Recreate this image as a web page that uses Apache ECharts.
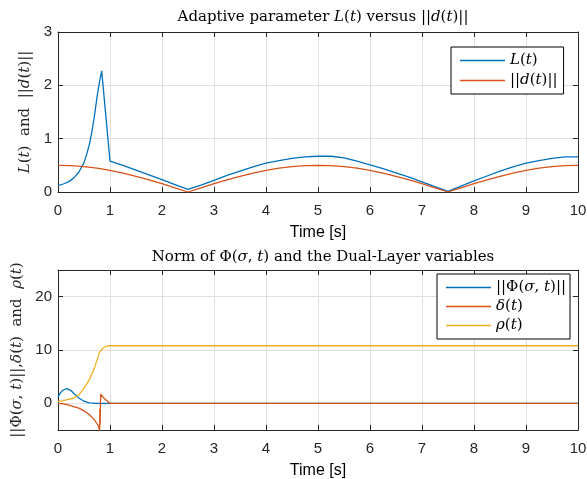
<!DOCTYPE html>
<html><head><meta charset="utf-8">
<script src="https://cdn.jsdelivr.net/npm/echarts@6/dist/echarts.min.js"></script>
<style>html,body{margin:0;padding:0;background:#fff}#c{width:587px;height:479px}</style>
</head><body><div id="c"></div>
<script>
// ---- Data ----
var tL = [0,0.1,0.2,0.3,0.4,0.5,0.55,0.6,0.65,0.7,0.75,0.8,0.84,1.0,1.25,1.5,1.75,2.0,2.25,2.5,2.75,3.0,3.25,3.5,3.75,4.0,4.25,4.5,4.75,5.0,5.25,5.5,5.75,6.0,6.25,6.5,6.75,7.0,7.25,7.5,7.75,8.0,8.25,8.5,8.75,9.0,9.25,9.5,9.75,10.0];
var L  = [0.12,0.15,0.19,0.26,0.37,0.55,0.70,0.88,1.12,1.42,1.78,2.08,2.27,0.58,0.50,0.41,0.32,0.23,0.14,0.05,0.13,0.22,0.31,0.39,0.47,0.54,0.59,0.63,0.66,0.67,0.67,0.64,0.58,0.51,0.44,0.36,0.28,0.19,0.10,0.01,0.11,0.21,0.30,0.39,0.47,0.54,0.59,0.63,0.66,0.66];
var tD = [0,0.25,0.5,0.75,1.0,1.25,1.5,1.75,2.0,2.25,2.5,2.75,3.0,3.25,3.5,3.75,4.0,4.25,4.5,4.75,5.0,5.25,5.5,5.75,6.0,6.25,6.5,6.75,7.0,7.25,7.5,7.75,8.0,8.25,8.5,8.75,9.0,9.25,9.5,9.75,10.0];
var D  = [0.5,0.494,0.476,0.446,0.405,0.354,0.294,0.227,0.155,0.078,0,0.078,0.155,0.227,0.294,0.354,0.405,0.446,0.476,0.494,0.5,0.494,0.476,0.446,0.405,0.354,0.294,0.227,0.155,0.078,0,0.078,0.155,0.227,0.294,0.354,0.405,0.446,0.476,0.494,0.5];

var tPhi = [0,0.05,0.1,0.17,0.25,0.3,0.4,0.5,0.6,0.7,0.8,10];
var Phi  = [1.2,2.0,2.5,2.75,2.4,1.9,1.0,0.4,0.1,0.02,0,0];
var tDel = [0,0.1,0.2,0.3,0.4,0.5,0.6,0.7,0.78,0.8,0.805,0.81,0.815,0.82,0.9,1.0,10];
var Del  = [0,-0.1,-0.3,-0.6,-0.9,-1.4,-2.1,-3.1,-4.3,-5.2,-1.0,-4.0,-0.8,1.7,0.8,0,0];
var tRho = [0,0.1,0.2,0.3,0.4,0.5,0.6,0.7,0.8,0.85,0.9,0.95,1.0,10];
var Rho  = [0.3,0.5,0.75,1.0,1.6,2.8,4.4,6.6,9.6,10.2,10.6,10.75,10.8,10.8];

var xTicks = [0,1,2,3,4,5,6,7,8,9,10];
var yTicksTop = [0,1,2,3];
var yTicksBot = [0,10,20];

function pairs(t, v){ return t.map(function(x,i){ return [x, v[i]]; }); }

var SERIF = 'DejaVu Serif';
var SANS = 'Liberation Sans';
var AX = '#262626';
var FS = 15;
var rich = {
  i: {fontFamily: SERIF, fontStyle: 'italic', fontSize: FS, color: '#000'},
  n: {fontFamily: SERIF, fontSize: FS, color: '#000'}
};
var richY = {
  i: {fontFamily: SERIF, fontStyle: 'italic', fontSize: FS, color: '#262626'},
  n: {fontFamily: SERIF, fontSize: FS, color: '#262626'}
};

var chart = echarts.init(document.getElementById('c'), null, {renderer: 'canvas'});

function xAxisMain(gi){
  return {type:'value', gridIndex: gi, min:0, max:10, interval:1, position:'bottom',
    name:'Time [s]', nameLocation:'middle', nameGap: 33,
    nameTextStyle:{fontFamily: SANS, fontSize:16, color:'#000'},
    axisLine:{show:true, onZero:false, lineStyle:{color:AX, width:1}},
    axisTick:{show:true, inside:true, length:5, lineStyle:{color:AX}, customValues:xTicks},
    axisLabel:{fontFamily:SANS, fontSize:15, color:'#262626', margin:11, customValues:xTicks},
    splitLine:{show:true, lineStyle:{color:'#dfdfdf', width:1}}};
}
function xAxisTop(gi){
  return {type:'value', gridIndex: gi, min:0, max:10, interval:1, position:'top',
    axisLine:{show:true, onZero:false, lineStyle:{color:AX, width:1}},
    axisTick:{show:true, inside:true, length:5, lineStyle:{color:AX}},
    axisLabel:{show:false}, splitLine:{show:false}};
}

var option = {
  backgroundColor:'#fff',
  animation:false,
  title:[
    {text:'Adaptive parameter {i|L}{n|(}{i|t}{n|)} versus {n|||}{i|d}{n|(}{i|t}{n|)||}', left:318, textAlign:'center', top:5,
     textStyle:{fontFamily:SERIF, fontSize:FS, fontWeight:'normal', color:'#000', rich:rich}},
    {text:'Norm of {n|Φ(}{i|σ}{n|, }{i|t}{n|)} and the Dual-Layer variables', left:318, textAlign:'center', top:245,
     textStyle:{fontFamily:SERIF, fontSize:FS, fontWeight:'normal', color:'#000', rich:rich}}
  ],
  grid:[
    {left:58, right:9, top:32, height:160, outerBoundsMode:'none', containLabel:false},
    {left:58, right:9, top:270, height:160, outerBoundsMode:'none', containLabel:false}
  ],
  xAxis:[ xAxisMain(0), xAxisTop(0), xAxisMain(1), xAxisTop(1) ],
  yAxis:[
    {type:'value', gridIndex:0, min:0, max:3, interval:1, position:'left',
     name:'{i|L}{n|(}{i|t}{n|)  and  ||}{i|d}{n|(}{i|t}{n|)||}', nameLocation:'middle', nameGap:22, nameRotate:90,
     nameTextStyle:{fontFamily:SERIF, fontSize:FS, color:'#262626', rich:richY},
     axisLine:{show:true, onZero:false, lineStyle:{color:AX}},
     axisTick:{show:true, inside:true, length:5, lineStyle:{color:AX}},
     axisLabel:{fontFamily:SANS, fontSize:15, color:'#262626', margin:6},
     splitLine:{show:true, lineStyle:{color:'#dfdfdf'}}},
    {type:'value', gridIndex:0, min:0, max:3, interval:1, position:'right',
     axisLine:{show:true, onZero:false, lineStyle:{color:AX}},
     axisTick:{show:true, inside:true, length:5, lineStyle:{color:AX}},
     axisLabel:{show:false}, splitLine:{show:false}},
    {type:'value', gridIndex:1, min:-5, max:25, position:'left',
     name:'{n|||Φ(}{i|σ}{n|, }{i|t}{n|)||,}{i|δ}{n|(}{i|t}{n|)  and  }{i|ρ}{n|(}{i|t}{n|)}', nameLocation:'middle', nameGap:30, nameRotate:90,
     nameTextStyle:{fontFamily:SERIF, fontSize:FS, color:'#262626', rich:richY},
     axisLine:{show:true, onZero:false, lineStyle:{color:AX}},
     axisTick:{show:true, inside:true, length:5, lineStyle:{color:AX}, customValues:yTicksBot},
     axisLabel:{fontFamily:SANS, fontSize:15, color:'#262626', margin:6, customValues:yTicksBot},
     splitLine:{show:true, lineStyle:{color:'#dfdfdf'}}},
    {type:'value', gridIndex:1, min:-5, max:25, position:'right',
     axisLine:{show:true, onZero:false, lineStyle:{color:AX}},
     axisTick:{show:true, inside:true, length:5, lineStyle:{color:AX}, customValues:yTicksBot},
     axisLabel:{show:false, customValues:yTicksBot}, splitLine:{show:false}}
  ],
  legend:[
    {data:['L','d'], left:451, top:47, orient:'vertical', icon:'rect', itemWidth:45, itemHeight:1.5, itemGap:5,
     backgroundColor:'#fff', borderColor:'#000', borderWidth:1, borderRadius:0, padding:[6,6,6,9],
     formatter:function(n){ return n==='L' ? '{i|L}{n|(}{i|t}{n|)}' : '{n|||}{i|d}{n|(}{i|t}{n|)||}'; },
     textStyle:{fontFamily:SERIF, fontSize:FS, rich:rich}},
    {data:['Phi','delta','rho'], left:437, top:274, orient:'vertical', icon:'rect', itemWidth:45, itemHeight:1.5, itemGap:4,
     backgroundColor:'#fff', borderColor:'#000', borderWidth:1, borderRadius:0, padding:[6,4,6,9],
     formatter:function(n){
       if(n==='Phi') return '{n|||Φ(}{i|σ}{n|, }{i|t}{n|)||}';
       if(n==='delta') return '{i|δ}{n|(}{i|t}{n|)}';
       return '{i|ρ}{n|(}{i|t}{n|)}';
     },
     textStyle:{fontFamily:SERIF, fontSize:FS, rich:rich}}
  ],
  series:[
    {name:'L', type:'line', xAxisIndex:0, yAxisIndex:0, data:pairs(tL,L), symbol:'none', lineStyle:{color:'#0072BD', width:1.3}, itemStyle:{color:'#0072BD'}},
    {name:'d', type:'line', xAxisIndex:0, yAxisIndex:0, data:pairs(tD,D), symbol:'none', lineStyle:{color:'#D95319', width:1.3}, itemStyle:{color:'#D95319'}},
    {name:'Phi', type:'line', xAxisIndex:2, yAxisIndex:2, data:pairs(tPhi,Phi), symbol:'none', lineStyle:{color:'#0072BD', width:1.3}, itemStyle:{color:'#0072BD'}},
    {name:'delta', type:'line', xAxisIndex:2, yAxisIndex:2, data:pairs(tDel,Del), symbol:'none', clip:true, lineStyle:{color:'#D95319', width:1.3}, itemStyle:{color:'#D95319'}},
    {name:'rho', type:'line', xAxisIndex:2, yAxisIndex:2, data:pairs(tRho,Rho), symbol:'none', lineStyle:{color:'#EDB120', width:1.3}, itemStyle:{color:'#EDB120'}}
  ]
};
chart.setOption(option);
</script></body></html>
